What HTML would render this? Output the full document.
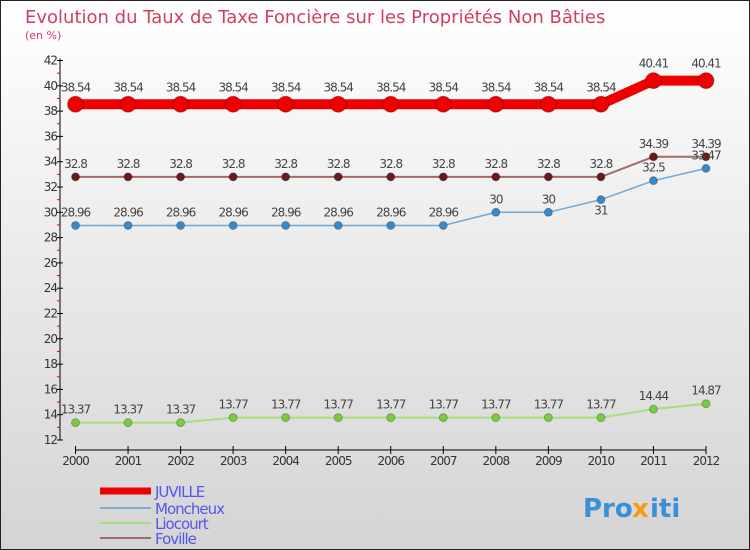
<!DOCTYPE html>
<html><head><meta charset="utf-8"><style>
body{margin:0;width:750px;height:550px;overflow:hidden}
svg{display:block;font-family:"DejaVu Sans","Liberation Sans",sans-serif}
</style></head><body>
<svg id="c" width="750" height="550">
<defs><linearGradient id="bg" x1="0" y1="0" x2="0" y2="1"><stop offset="0" stop-color="#ffffff"/><stop offset="1" stop-color="#d4d4d4"/></linearGradient></defs>
<rect x="0.5" y="0.5" width="749" height="549" fill="url(#bg)" stroke="#222"/>
<text x="25" y="23" font-size="18" fill="#d0405e">Evolution du Taux de Taxe Foncière sur les Propriétés Non Bâties</text>
<text x="25" y="39" font-size="11" fill="#d0405e">(en %)</text>
<g id="axes"></g><g id="series"></g><g id="legend"></g>
<g font-size="26" font-weight="bold">
<text x="583" y="517" fill="#3a8fd8">Pro</text><text x="632" y="517" fill="#f39c12">x</text><text x="650" y="517" fill="#3a8fd8">iti</text>
</g>
</svg>
<script>
const years=[2000,2001,2002,2003,2004,2005,2006,2007,2008,2009,2010,2011,2012];
const juville=[38.54,38.54,38.54,38.54,38.54,38.54,38.54,38.54,38.54,38.54,38.54,40.41,40.41];
const moncheux=[28.96,28.96,28.96,28.96,28.96,28.96,28.96,28.96,30,30,31,32.5,33.47];
const liocourt=[13.37,13.37,13.37,13.77,13.77,13.77,13.77,13.77,13.77,13.77,13.77,14.44,14.87];
const foville=[32.8,32.8,32.8,32.8,32.8,32.8,32.8,32.8,32.8,32.8,32.8,34.39,34.39];
const yTicks=[12,14,16,18,20,22,24,26,28,30,32,34,36,38,40,42];
const NS="http://www.w3.org/2000/svg";
const X=i=>75.5+i*(706-75.5)/(years.length-1);
const Y=v=>440-(v-12)*(440-60.5)/30;
function mk(t,a,p){const e=document.createElementNS(NS,t);for(const k in a)e.setAttribute(k,a[k]);p.appendChild(e);return e;}
const ax=document.getElementById('axes');
let e=mk('line',{x1:60,y1:Y(42)-2,x2:60,y2:Y(12),stroke:'#000'},ax);


e=mk('line',{x1:X(0),y1:450,x2:X(12),y2:450,stroke:'#000'},ax);


yTicks.forEach(v=>{
 mk('line',{x1:57,y1:Y(v),x2:63,y2:Y(v),stroke:'#000'},ax);
 if(v<42) mk('line',{x1:57,y1:Y(v+1),x2:60,y2:Y(v+1),stroke:'#e00'},ax);
 const t=mk('text',{x:57,y:Y(v)+4,'font-size':12,'text-anchor':'end',fill:'#333','letter-spacing':'-1'},ax);
 t.textContent=v;
 
 
});
years.forEach((y,i)=>{
 mk('line',{x1:X(i),y1:446,x2:X(i),y2:454,stroke:'#000'},ax);
 const t=mk('text',{x:X(i),y:465,'font-size':12,'text-anchor':'middle',fill:'#333','letter-spacing':'-1'},ax);
 t.textContent=y;
 
 
});
const sg=document.getElementById('series');
const defs=[
 {n:'foville',d:foville,c:'#a06a6a',m:'#6a1a1a',w:2,r:4,dy:-9},
 {n:'moncheux',d:moncheux,c:'#6fa8d6',m:'#3a88c8',w:1.5,r:4,dy:-9},
 {n:'liocourt',d:liocourt,c:'#a8dd80',m:'#7acc3c',w:2,r:4,dy:-9},
 {n:'juville',d:juville,c:'#ee0000',m:'#ee0000',w:10,r:8,dy:-13}
];
defs.forEach(s=>{
 const g=mk('g',{},sg);
 
 
 const p=mk('polyline',{points:s.d.map((v,i)=>X(i)+','+Y(v)).join(' '),fill:'none',stroke:s.c,'stroke-width':s.w},g);
 
 
 s.d.forEach((v,i)=>{
  const c=mk('circle',{cx:X(i),cy:Y(v),r:s.r,fill:s.m,stroke:'rgba(0,0,0,0.25)'},g);
  
  
  let dy=s.dy; if(s.n==='moncheux'&&i===10) dy=15;
  const t=mk('text',{x:X(i),y:Y(v)+dy,'font-size':12,'text-anchor':'middle',fill:'#444','letter-spacing':'-1'},g);
  t.textContent=String(v).replace('.','.');
  
  
 });
});
const lg=document.getElementById('legend');
[['JUVILLE','#ee0000',7,491],['Moncheux','#7aaed6',2,508],['Liocourt','#a8dd80',2,523],['Foville','#a06a6a',2,538]].forEach(l=>{
 const g=mk('g',{},lg);
 
 
 mk('line',{x1:100,y1:l[3],x2:151,y2:l[3],stroke:l[1],'stroke-width':l[2]},g);
 const t=mk('text',{x:155,y:l[3]+6,'font-size':15,fill:'#5555ee','letter-spacing':'-1'},g);
 t.textContent=l[0];
});
</script>
</body></html>
